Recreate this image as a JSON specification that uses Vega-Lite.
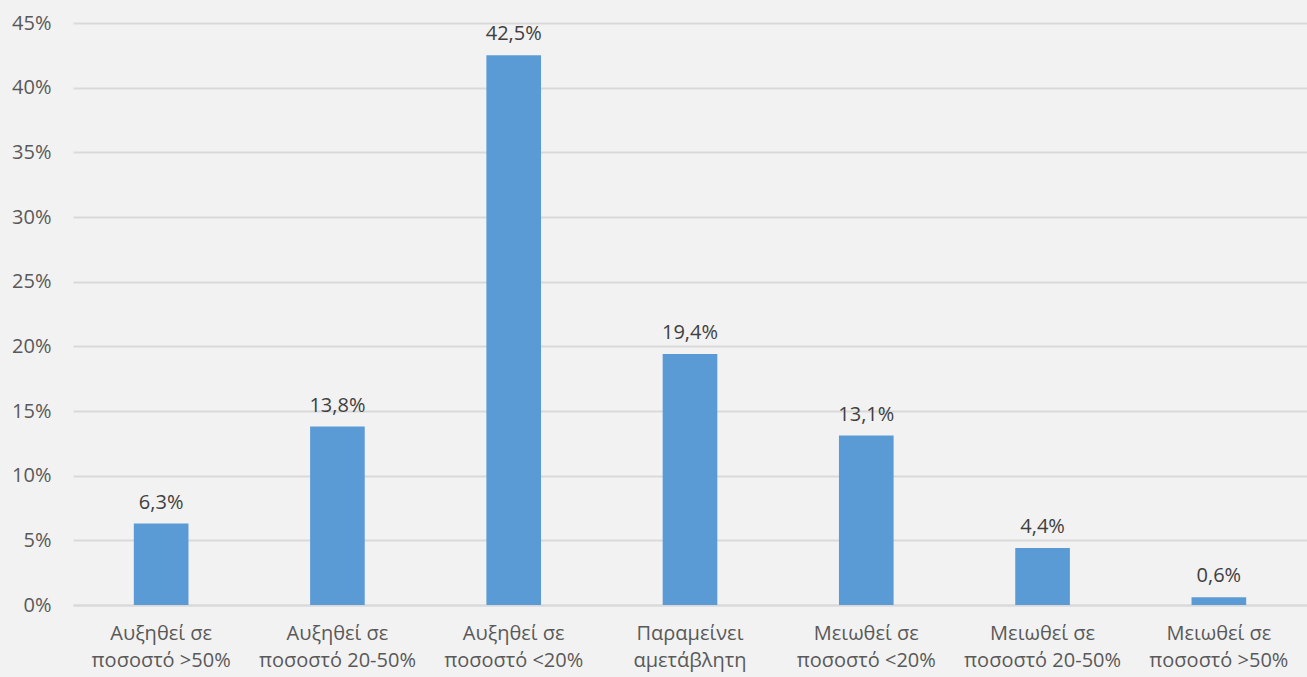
{
  "$schema": "https://vega.github.io/schema/vega-lite/v6.json",
  "autosize": {"type": "none"},
  "padding": {"left": 73, "top": 23, "right": 0, "bottom": 72},
  "width": 1234,
  "height": 582,
  "background": "#f2f2f2",
  "config": {
    "view": {"stroke": null},
    "font": "Open Sans",
    "locale": {"number": {"decimal": ",", "thousands": ".", "grouping": [3], "currency": ["", " €"]}}
  },
  "data": {
    "values": [
      {"cat": "Αυξηθεί σε|ποσοστό >50%", "v": 0.063},
      {"cat": "Αυξηθεί σε|ποσοστό 20-50%", "v": 0.138},
      {"cat": "Αυξηθεί σε|ποσοστό <20%", "v": 0.425},
      {"cat": "Παραμείνει|αμετάβλητη", "v": 0.194},
      {"cat": "Μειωθεί σε|ποσοστό <20%", "v": 0.131},
      {"cat": "Μειωθεί σε|ποσοστό 20-50%", "v": 0.044},
      {"cat": "Μειωθεί σε|ποσοστό >50%", "v": 0.006}
    ]
  },
  "encoding": {
    "x": {
      "field": "cat", "type": "nominal", "sort": null,
      "scale": {"paddingInner": 0.69, "paddingOuter": 0.345},
      "axis": {
        "title": null, "labelAngle": 0, "ticks": false,
        "domain": true, "domainColor": "#d9d9d9", "domainWidth": 2,
        "labelExpr": "split(datum.label, '|')",
        "labelFontSize": 20, "labelColor": "#595959", "labelPadding": 18,
        "labelLineHeight": 27, "labelBaseline": "top"
      }
    },
    "y": {
      "field": "v", "type": "quantitative",
      "scale": {"domain": [0, 0.45]},
      "axis": {
        "title": null, "format": ".0%", "values": [0, 0.05, 0.1, 0.15, 0.2, 0.25, 0.3, 0.35, 0.4, 0.45],
        "domain": false, "ticks": false, "gridColor": "#d9d9d9", "gridWidth": 2,
        "labelFontSize": 20, "labelColor": "#595959", "labelPadding": 22
      }
    }
  },
  "layer": [
    {"mark": {"type": "bar", "color": "#5b9bd5"}},
    {
      "mark": {"type": "text", "baseline": "bottom", "dy": -11, "fontSize": 20, "color": "#404040"},
      "encoding": {"text": {"field": "v", "type": "quantitative", "format": ".1%"}}
    }
  ]
}
